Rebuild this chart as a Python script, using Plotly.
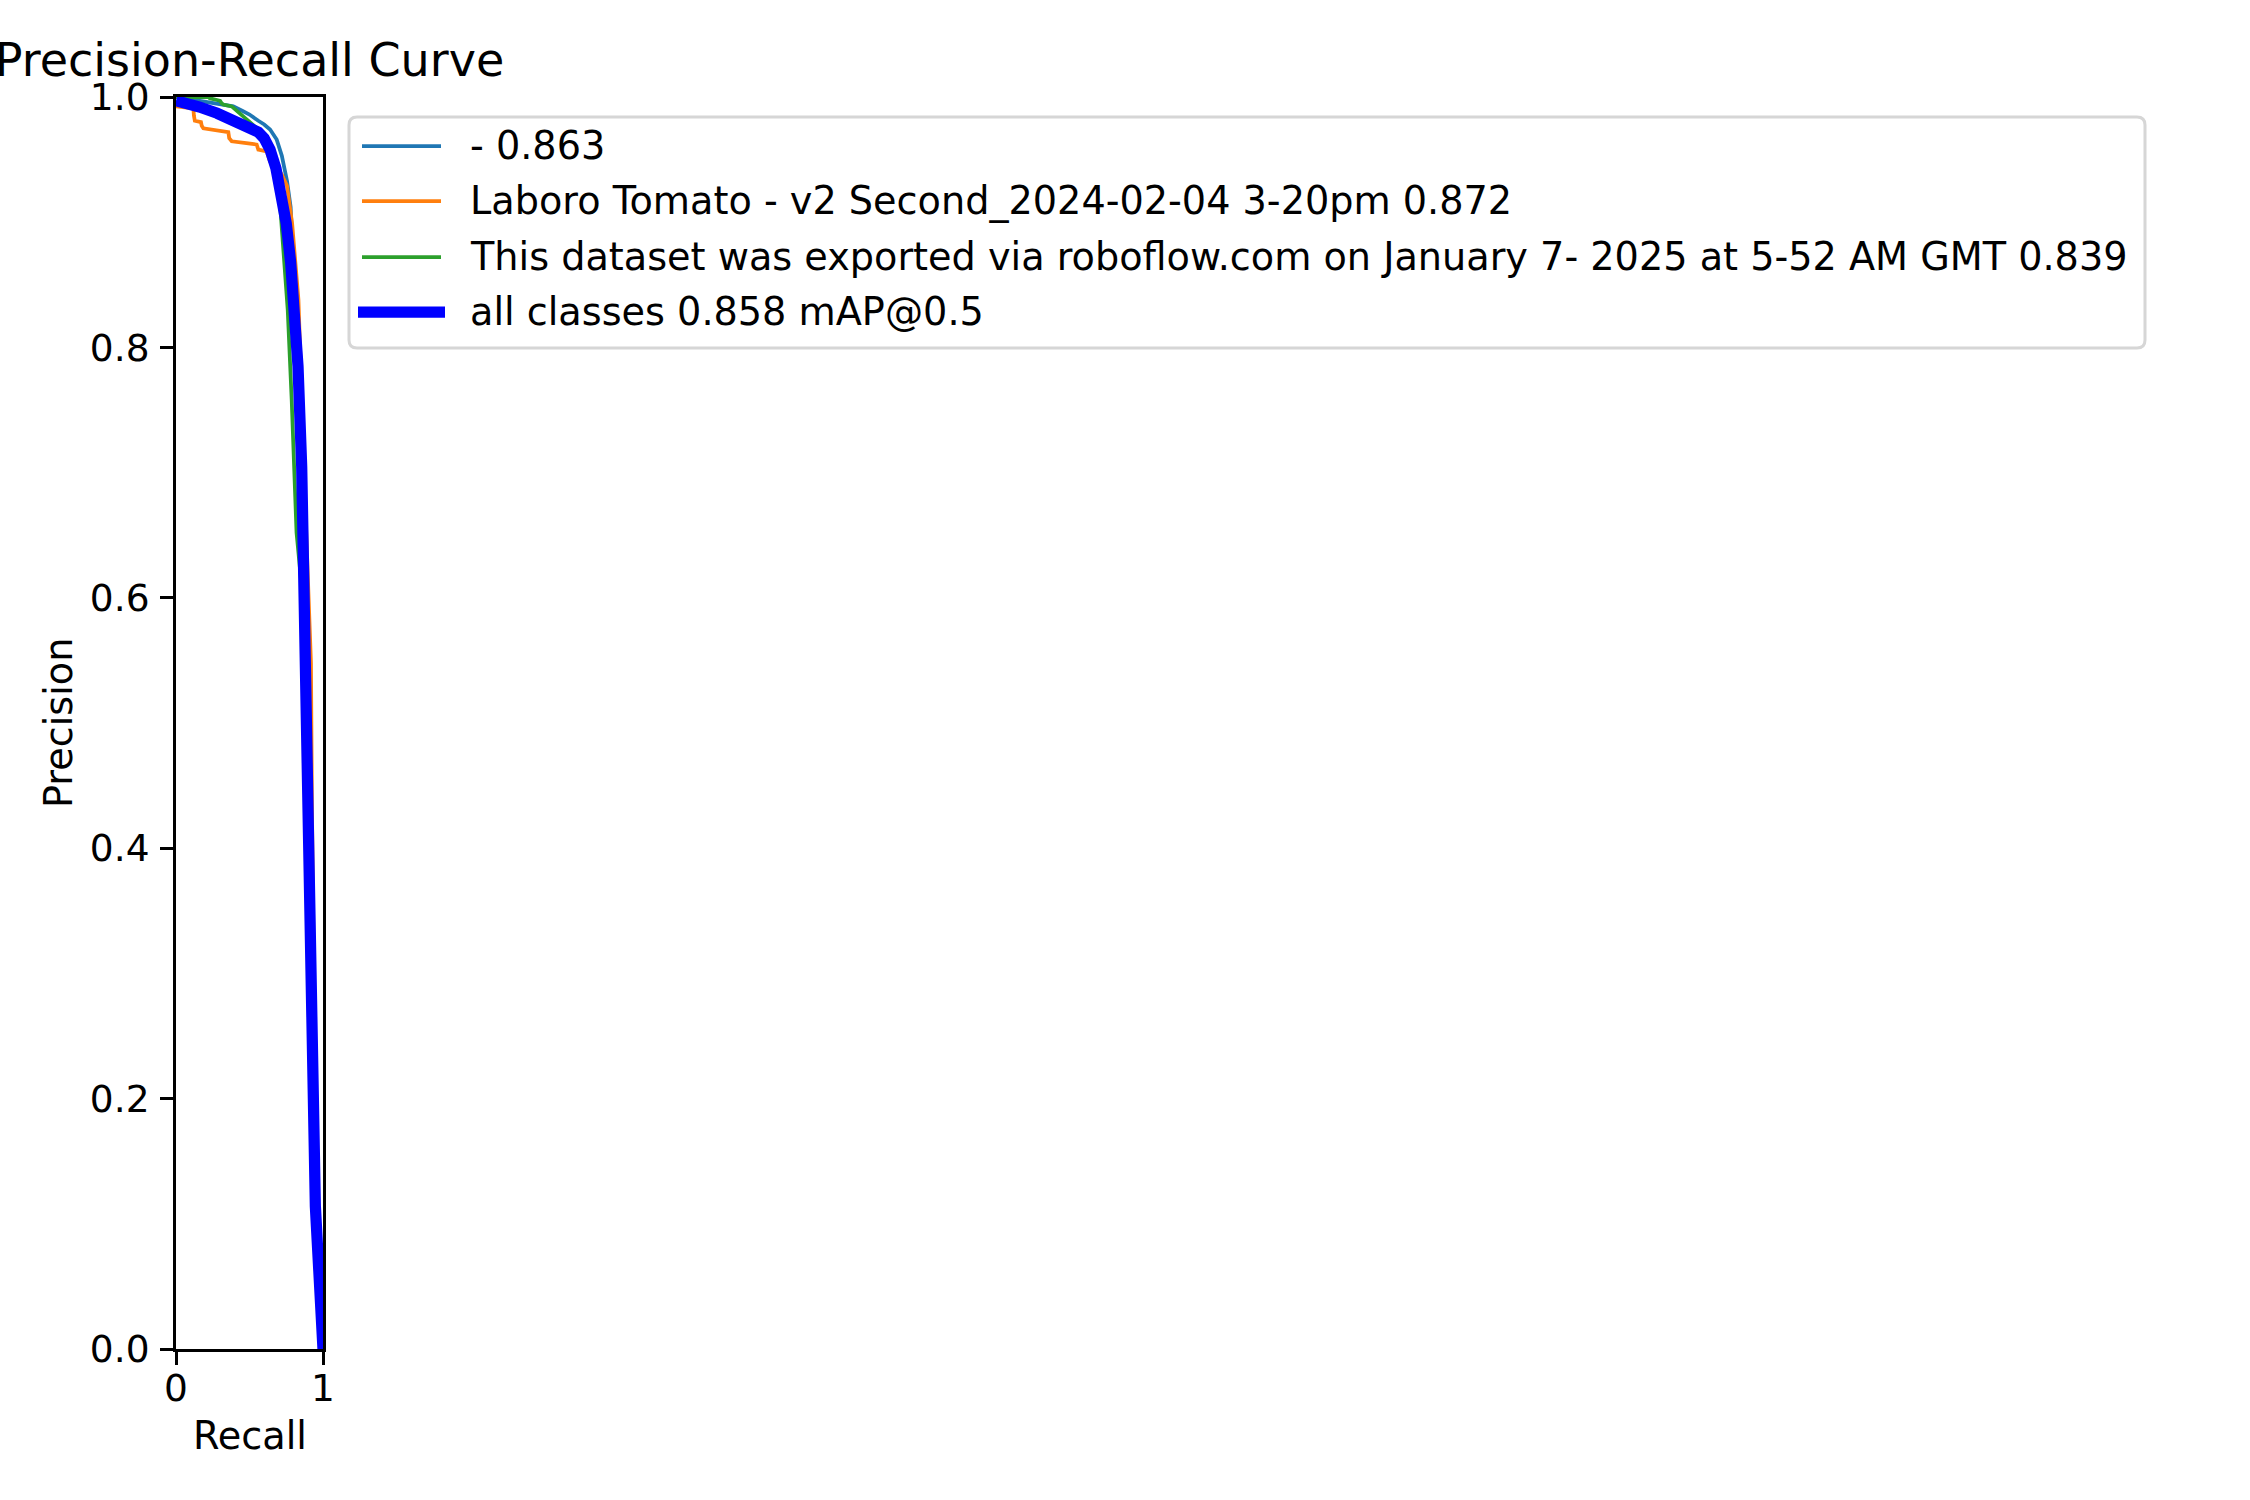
import plotly.graph_objects as go

# Размер картинки и область графика (в пикселях)
W, H = 2250, 1500
L, R, T, B = 176, 323, 97, 1349

FONT = "DejaVu Sans"
FS = 38.2

# Данные кривых precision-recall
rec_cls0 = [0.0, 0.1, 0.2, 0.3, 0.39, 0.45, 0.50, 0.56, 0.60, 0.64, 0.685, 0.72,
            0.755, 0.78, 0.80, 0.83, 0.855, 0.875, 0.89, 0.905, 0.92, 0.935, 0.95, 1.0]
prec_cls0 = [1.0, 0.998, 0.996, 0.994, 0.9925, 0.989, 0.986, 0.981, 0.978, 0.974, 0.966, 0.953,
             0.933, 0.912, 0.86, 0.80, 0.72, 0.61, 0.51, 0.43, 0.30, 0.19, 0.115, 0.0]

rec_cls1 = [0.0, 0.118, 0.122, 0.128, 0.17, 0.175, 0.186, 0.254, 0.356, 0.362, 0.379, 0.492,
            0.549, 0.56, 0.617, 0.639, 0.68, 0.72, 0.755, 0.79, 0.833, 0.878, 0.905, 0.918,
            0.925, 0.935, 0.945, 0.955, 1.0]
prec_cls1 = [0.9925, 0.991, 0.985, 0.981, 0.980, 0.977, 0.975, 0.974, 0.972, 0.967, 0.9646, 0.963,
             0.962, 0.958, 0.9566, 0.9486, 0.945, 0.938, 0.929, 0.899, 0.838, 0.678, 0.60, 0.548,
             0.43, 0.30, 0.18, 0.115, 0.0]

rec_cls2 = [0.0, 0.1, 0.2, 0.225, 0.23, 0.30, 0.31, 0.322, 0.379, 0.435, 0.503, 0.56, 0.62,
            0.66, 0.695, 0.712, 0.72, 0.727, 0.735, 0.76, 0.787, 0.82, 0.862, 0.875, 0.894,
            0.907, 0.922, 0.94, 1.0]
prec_cls2 = [1.0, 1.0, 1.0, 1.0, 0.999, 0.997, 0.995, 0.994, 0.9925, 0.987, 0.98, 0.974, 0.965,
             0.955, 0.935, 0.91, 0.895, 0.885, 0.875, 0.83, 0.758, 0.652, 0.60, 0.55, 0.45,
             0.33, 0.20, 0.11, 0.0]

rec_all = [0.0, 0.05, 0.16, 0.28, 0.37, 0.45, 0.50, 0.56, 0.60, 0.64, 0.68, 0.72, 0.75,
           0.78, 0.80, 0.83, 0.855, 0.87, 0.89, 0.90, 0.912, 0.928, 0.948, 1.0]
prec_all = [0.997, 0.996, 0.992, 0.987, 0.982, 0.979, 0.976, 0.972, 0.967, 0.958, 0.943, 0.922, 0.899,
            0.868, 0.838, 0.785, 0.705, 0.61, 0.508, 0.428, 0.295, 0.199, 0.114, 0.0]

names = [
    "- 0.863",
    "Laboro Tomato - v2 Second_2024-02-04 3-20pm 0.872",
    "This dataset was exported via roboflow.com on January 7- 2025 at 5-52 AM GMT 0.839",
    "all classes 0.858 mAP@0.5",
]
colors = ["#1f77b4", "#ff7f0e", "#2ca02c", "#0000ff"]
widths = [3.75, 3.75, 3.75, 11.25]

y_ticks = [0.0, 0.2, 0.4, 0.6, 0.8, 1.0]
x_ticks = [0, 1]


def px(x):
    return (x - L) / (R - L)


def py(y):
    return (B - y) / (B - T)


curves = [(rec_cls0, prec_cls0), (rec_cls1, prec_cls1), (rec_cls2, prec_cls2), (rec_all, prec_all)]

fig = go.Figure()
for (rx, ry), name, color, w in zip(curves, names, colors, widths):
    fig.add_trace(go.Scatter(x=rx, y=ry, mode="lines", name=name, showlegend=False,
                             line=dict(color=color, width=w)))

axis_common = dict(showline=True, mirror=True, linecolor="black", linewidth=3,
                   ticks="outside", ticklen=13, tickwidth=3, tickcolor="black",
                   showgrid=False, zeroline=False, fixedrange=True,
                   tickfont=dict(family=FONT, size=37.5, color="black"))

fig.update_xaxes(range=[0, 1], tickvals=x_ticks, ticktext=[str(v) for v in x_ticks],
                 ticklabelstandoff=-9, **axis_common)
fig.update_yaxes(range=[0, 1], tickvals=y_ticks, ticktext=[f"{v:.1f}" for v in y_ticks],
                 ticklabelstandoff=3, **axis_common)

# Легенда вручную: рамка со скруглёнными углами
x0, x1, y0, y1, r = 349, 2145, 117, 348, 8
path = (f"M {px(x0 + r)},{py(y0)} L {px(x1 - r)},{py(y0)} "
        f"Q {px(x1)},{py(y0)} {px(x1)},{py(y0 + r)} L {px(x1)},{py(y1 - r)} "
        f"Q {px(x1)},{py(y1)} {px(x1 - r)},{py(y1)} L {px(x0 + r)},{py(y1)} "
        f"Q {px(x0)},{py(y1)} {px(x0)},{py(y1 - r)} L {px(x0)},{py(y0 + r)} "
        f"Q {px(x0)},{py(y0)} {px(x0 + r)},{py(y0)} Z")
shapes = [dict(type="path", path=path, xref="paper", yref="paper",
               line=dict(color="#d6d6d6", width=3), fillcolor="white", layer="below")]

annotations = []
rows = [146, 201, 257, 312]
for i, (name, color, w) in enumerate(zip(names, colors, widths)):
    ext = 4 if w > 5 else 0
    shapes.append(dict(type="line", xref="paper", yref="paper",
                       x0=px(362 - ext), x1=px(441 + ext), y0=py(rows[i]), y1=py(rows[i]),
                       line=dict(color=color, width=w)))
    annotations.append(dict(text=name, xref="paper", yref="paper", x=px(468), y=py(rows[i]),
                            xanchor="left", yanchor="middle", showarrow=False,
                            font=dict(family=FONT, size=FS, color="black")))

# Подписи осей
annotations.append(dict(text="Recall", xref="paper", yref="paper", x=0.5, y=py(1436),
                        xanchor="center", yanchor="middle", showarrow=False,
                        font=dict(family=FONT, size=FS, color="black")))
annotations.append(dict(text="Precision", xref="paper", yref="paper", x=px(59), y=0.5,
                        xanchor="center", yanchor="middle", textangle=-90, showarrow=False,
                        font=dict(family=FONT, size=FS, color="black")))

fig.update_layout(
    width=W, height=H,
    margin=dict(l=L, r=W - R, t=T, b=H - B, autoexpand=False),
    paper_bgcolor="white", plot_bgcolor="white",
    title=dict(text="Precision-Recall Curve", x=0.5, xref="paper", xanchor="center",
               y=1 - 60 / H, yref="container", yanchor="middle",
               font=dict(family=FONT, size=46, color="black")),
    shapes=shapes, annotations=annotations,
    showlegend=False,
)

# убираем отступ страницы, чтобы график начинался с угла окна
fig.write_html("out.html", config={"displayModeBar": False},
               post_script="document.body.style.margin='0';")
